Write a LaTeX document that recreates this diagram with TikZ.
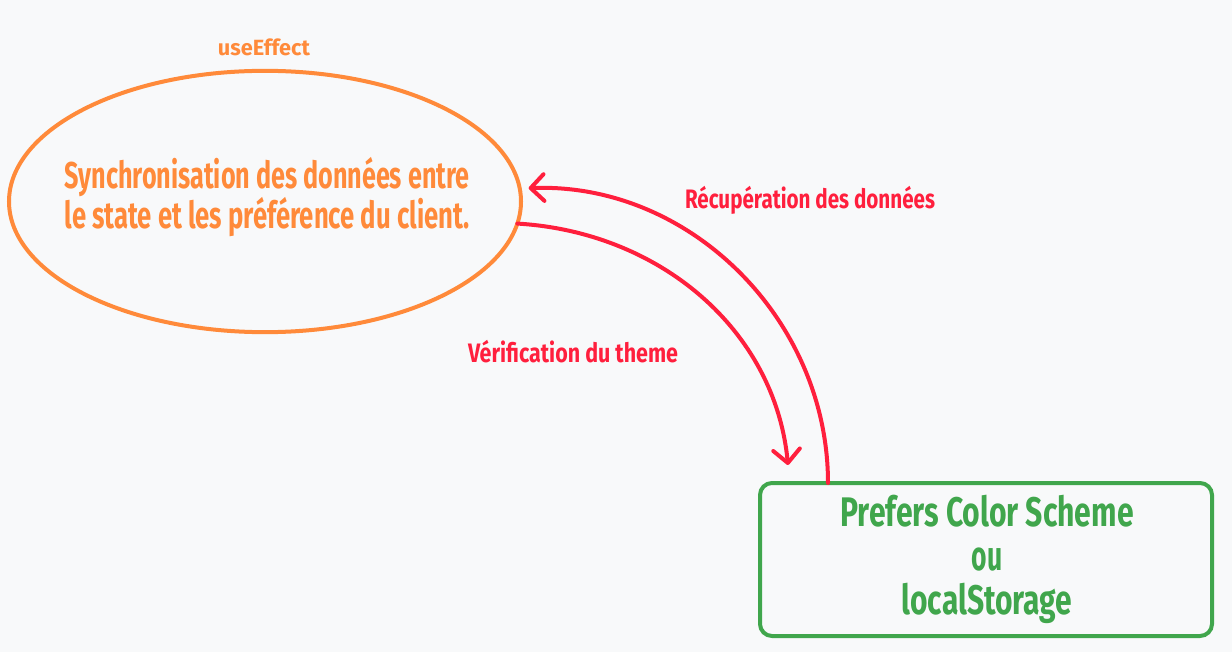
\documentclass[tikz,border=0pt]{standalone}
\usepackage{fontspec}
\setmainfont{Fira Sans}
\usepackage{graphicx}
\usetikzlibrary{shapes.geometric,arrows.meta,calc}
\definecolor{bgc}{HTML}{F8F9FA}
\definecolor{orng}{HTML}{FF8A3A}
\definecolor{redc}{HTML}{FF1F3D}
\definecolor{grn}{HTML}{40A64C}
\newcommand{\fitw}[2]{\resizebox{#1}{\height}{#2}}
\begin{document}
\begin{tikzpicture}[x=0.75pt,y=-0.75pt,
  every node/.style={inner sep=0pt, outer sep=0pt},
  conn/.style={draw=redc, line width=3pt, line cap=round,
    -{Straight Barb[length=10pt,width=20pt,line width=3pt,round]}},
  lbl/.style={text=redc, font=\fontsize{20}{22}\selectfont\bfseries}]
\fill[bgc] (0,0) rectangle (1232,652);
\useasboundingbox (0,0) rectangle (1232,652);

\node[ellipse, draw=orng, line width=3pt, minimum width=384pt, minimum height=196pt] (ell) at (265,201.5) {};
\node[text=orng, align=center, font=\fontsize{28}{27.75}\selectfont\bfseries] (elltext) at (267,197)
  {\fitw{303.75pt}{Synchronisation des données entre}\\\fitw{303.75pt}{le state et les préférence du client.}};
\node[text=orng, font=\fontsize{16.5}{18}\selectfont\bfseries] (ue) at (264,47) {\fitw{69pt}{useEffect}};

\node[rectangle, rounded corners=9pt, draw=grn, line width=3pt, minimum width=339pt, minimum height=114.75pt] (box) at (986,559.5) {};
\node[text=grn, align=center, font=\fontsize{31}{33}\selectfont\bfseries] (boxtext) at (987,559)
  {\fitw{220pt}{Prefers Color Scheme}\\\fitw{23pt}{ou}\\\fitw{128pt}{localStorage}};

\coordinate (a1end) at ($(box.north west)+(28,-18)$);
\coordinate (a2start) at ($(box.north west)+(68,0)$);
\draw[conn] (ell.-5.4) .. controls (660,232) and (775,330) .. (a1end);
\draw[conn] (a2start) .. controls (828,320) and (690,182) .. ($(ell.3.5)+(9,0)$);

\node[lbl] (l1) at (810,200) {\fitw{187.5pt}{Récupération des données}};
\node[lbl] (l2) at (573,352) {\fitw{157.5pt}{Vérification du theme}};
\end{tikzpicture}
\end{document}
